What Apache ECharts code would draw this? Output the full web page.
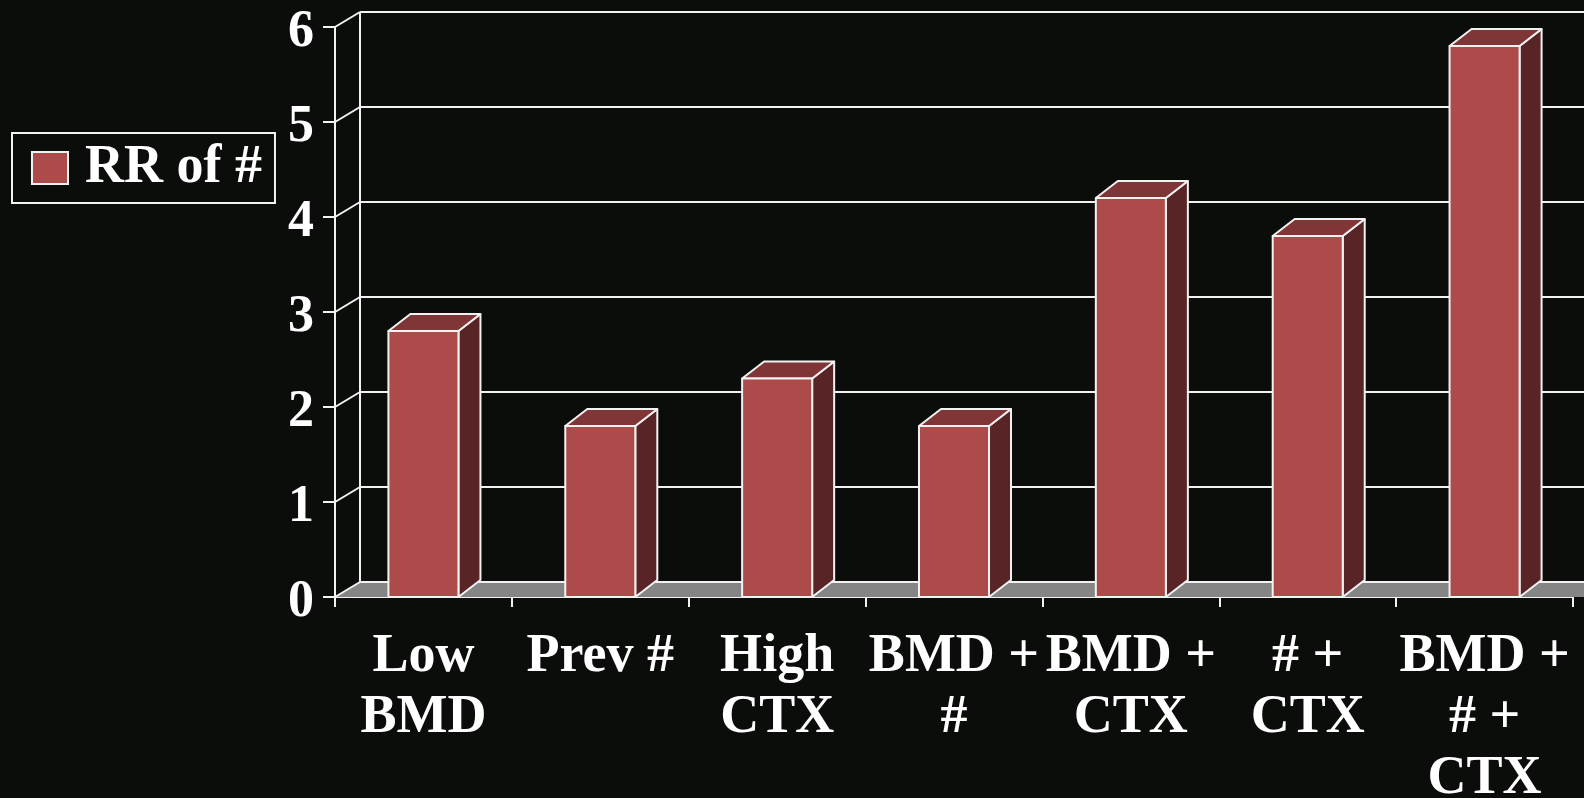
<!DOCTYPE html>
<html>
<head>
<meta charset="utf-8">
<script src="https://cdn.jsdelivr.net/npm/echarts@6/dist/echarts.min.js"></script>
<style>
html,body{margin:0;padding:0;background:#0b0d0b;}
#chart{width:1584px;height:798px;}
</style>
</head>
<body>
<div id="chart"></div>
<script>
var categories = ['Low\nBMD', 'Prev #', 'High\nCTX', 'BMD +\n#', 'BMD +\nCTX', '# +\nCTX', 'BMD +\n# +\nCTX'];
var rrValues = [2.8, 1.8, 2.3, 1.8, 4.2, 3.8, 5.8];
var yTicks = [0, 1, 2, 3, 4, 5, 6];
var seriesName = 'RR of #';

var WALL_DX = 25, WALL_DY = -15;
var BAR_DX = 22, BAR_DY = -17;
var LINE = '#f2f2f2';
var FONT = '"Liberation Serif","Times New Roman",serif';

var chart = echarts.init(document.getElementById('chart'));

function renderWalls(params, api) {
  var cs = params.coordSys;
  var v = api.value(0);
  var y = api.coord([0, v])[1];
  var x0 = cs.x, x1 = cs.x + cs.width;
  var children = [];
  var ls = {stroke: LINE, lineWidth: 2};
  if (v === 0) {
    children.push({type: 'polygon', shape: {points: [[x0, y], [x1 + 40, y], [x1 + 40 + WALL_DX, y + WALL_DY], [x0 + WALL_DX, y + WALL_DY]]}, style: {fill: '#858585'}});
    children.push({type: 'line', shape: {x1: x0 + WALL_DX, y1: cs.y + WALL_DY, x2: x0 + WALL_DX, y2: y + WALL_DY}, style: ls});
  }
  children.push({type: 'line', shape: {x1: x0 + WALL_DX, y1: y + WALL_DY, x2: x1 + 60, y2: y + WALL_DY}, style: ls});
  children.push({type: 'line', shape: {x1: x0, y1: y, x2: x0 + WALL_DX, y2: y + WALL_DY}, style: ls});
  return {type: 'group', children: children};
}

function renderBar(params, api) {
  var idx = api.value(0), v = api.value(1);
  var top = api.coord([idx, v]);
  var base = api.coord([idx, 0]);
  var w = api.size([1, 0])[0] * 0.396;
  var xl = top[0] - w / 2, xr = top[0] + w / 2, yt = top[1], yb = base[1];
  var st = {stroke: LINE, lineWidth: 2, lineJoin: 'round'};
  return {type: 'group', children: [
    {type: 'polygon', shape: {points: [[xr, yt], [xr + BAR_DX, yt + BAR_DY], [xr + BAR_DX, yb + BAR_DY], [xr, yb]]}, style: Object.assign({fill: '#582426'}, st)},
    {type: 'polygon', shape: {points: [[xl, yt], [xr, yt], [xr + BAR_DX, yt + BAR_DY], [xl + BAR_DX, yt + BAR_DY]]}, style: Object.assign({fill: '#803636'}, st)},
    {type: 'rect', shape: {x: xl, y: yt, width: w, height: yb - yt}, style: Object.assign({fill: '#ad4a4a'}, st)}
  ]};
}

chart.setOption({
  backgroundColor: '#0b0d0b',
  animation: false,
  legend: {
    left: 12, top: 133,
    orient: 'vertical',
    padding: [8, 13, 8, 19],
    borderColor: LINE, borderWidth: 2,
    itemWidth: 36, itemHeight: 32,
    data: [{name: seriesName, icon: 'rect', itemStyle: {color: '#ad4a4a', borderColor: LINE, borderWidth: 2}}],
    textStyle: {color: '#ffffff', fontFamily: FONT, fontWeight: 'bold', fontSize: 54, lineHeight: 54, padding: [0, 0, 0, 12]}
  },
  grid: {left: 335, right: 11, top: 27, bottom: 201, containLabel: false, outerBoundsMode: 'none'},
  xAxis: {
    type: 'category',
    data: categories,
    boundaryGap: true,
    axisLine: {show: true, lineStyle: {color: LINE, width: 2}},
    axisTick: {show: true, length: 10, lineStyle: {color: LINE, width: 2}},
    axisLabel: {interval: 0, color: '#ffffff', fontFamily: FONT, fontWeight: 'bold', fontSize: 54, lineHeight: 61, margin: 30, align: 'center'},
    splitLine: {show: false}
  },
  yAxis: {
    type: 'value',
    min: 0, max: 6, interval: 1,
    axisLine: {show: true, lineStyle: {color: LINE, width: 2}},
    axisTick: {show: true, length: 12, lineStyle: {color: LINE, width: 2}},
    axisLabel: {color: '#ffffff', fontFamily: FONT, fontWeight: 'bold', fontSize: 52, margin: 21, verticalAlign: 'top', lineHeight: 12},
    splitLine: {show: false}
  },
  series: [
    {
      type: 'custom',
      name: 'walls',
      silent: true,
      z: 1,
      renderItem: renderWalls,
      data: yTicks.map(function (t) { return [t]; }),
      encode: {y: 0},
      clip: false
    },
    {
      type: 'custom',
      name: seriesName,
      z: 3,
      renderItem: renderBar,
      itemStyle: {color: '#ad4a4a'},
      data: rrValues.map(function (v, i) { return [i, v]; }),
      encode: {x: 0, y: 1},
      clip: false
    }
  ]
});
</script>
</body>
</html>
